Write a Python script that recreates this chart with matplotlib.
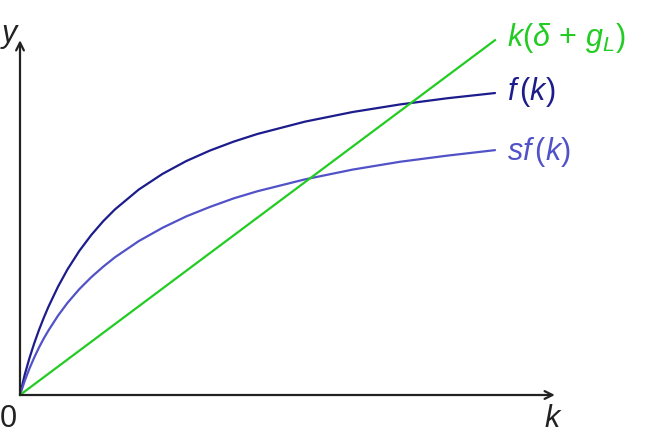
import matplotlib
matplotlib.use("Agg")
import matplotlib.pyplot as plt

plt.rcParams['mathtext.fontset'] = 'custom'
plt.rcParams['mathtext.it'] = 'Liberation Sans:italic'
plt.rcParams['mathtext.rm'] = 'Liberation Sans'
plt.rcParams['mathtext.sf'] = 'Liberation Sans'
plt.rcParams['font.family'] = ['Liberation Sans', 'DejaVu Sans']

# Data
k_vals = [0, 0.1, 0.2, 0.3, 0.4, 0.5, 0.6, 0.8, 1.0, 1.25, 1.5, 1.75, 2, 2.5, 3, 3.5, 4,
          4.5, 5, 6, 7, 8, 9, 10]
f_vals = [0, 0.43, 0.78, 1.09, 1.37, 1.625, 1.86, 2.28, 2.645, 3.035, 3.368, 3.657, 3.908,
          4.325, 4.655, 4.925, 5.147, 5.335, 5.496, 5.755, 5.957, 6.117, 6.248, 6.357]
sf_vals = [0, 0.30, 0.56, 0.79, 1.00, 1.19, 1.36, 1.67, 1.94, 2.23, 2.48, 2.70, 2.90,
           3.24, 3.52, 3.76, 3.96, 4.14, 4.29, 4.54, 4.745, 4.91, 5.04, 5.155]
line_k = [0, 10]
line_y = [0, 7.47]
labels = [r'$k(\delta\,+\,g_L)$', r'$f\,(k)$', r'$sf\,(k)$']

c_f = '#1c1c8c'
c_sf = '#5252c8'
c_line = '#22cc22'

fig = plt.figure(figsize=(6.47, 4.48), dpi=100)
ax = fig.add_axes([0, 0, 1, 1])
ax.set_xlim(-20 / 47.5, (647 - 20) / 47.5)
ax.set_ylim(-53 / 47.5, 395 / 47.5)
ax.axis('off')

ax.plot(k_vals, f_vals, color=c_f, lw=1.6, solid_capstyle='round', solid_joinstyle='round')
ax.plot(k_vals, sf_vals, color=c_sf, lw=1.6, solid_capstyle='round', solid_joinstyle='round')
ax.plot(line_k, line_y, color=c_line, lw=1.6)

# axes with arrows
ax.annotate('', xy=(0, 7.47), xytext=(0, 0),
            arrowprops=dict(arrowstyle='->', color='#222222', lw=1.6,
                            shrinkA=0, shrinkB=0, mutation_scale=14))
ax.annotate('', xy=(11.26, 0), xytext=(0, 0),
            arrowprops=dict(arrowstyle='->', color='#222222', lw=1.6,
                            shrinkA=0, shrinkB=0, mutation_scale=14))

fs = 22
ax.text(10.25, line_y[-1] + 0.05, labels[0], color=c_line, fontsize=fs, va='center', ha='left')
ax.text(10.25, f_vals[-1] + 0.02, labels[1], color=c_f, fontsize=fs, va='center', ha='left')
ax.text(10.25, sf_vals[-1] - 0.04, labels[2], color=c_sf, fontsize=fs, va='center', ha='left')

ax.text(11.23, -0.5, r'$k$', color='#222222', fontsize=fs, va='center', ha='center')
ax.text(-0.42, -0.5, '0', color='#222222', fontsize=fs, va='center', ha='left')
ax.text(-0.42, 7.55, r'$y$', color='#222222', fontsize=fs, va='center', ha='left')

fig.savefig('out.png', dpi=100)
